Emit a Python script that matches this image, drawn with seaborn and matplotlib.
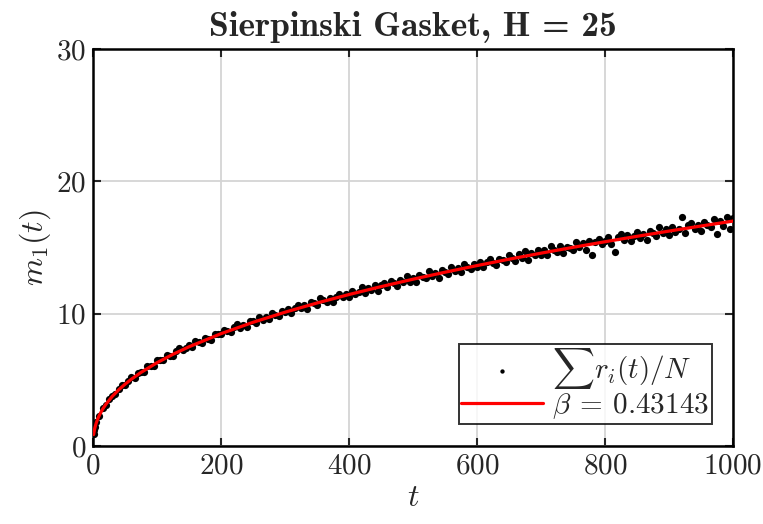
import numpy as np
import pandas as pd
import matplotlib
matplotlib.use("Agg")
import matplotlib.pyplot as plt
import seaborn as sns

# mean displacement samples
t_data = [1, 2, 3] + list(range(5, 1001, 5))
m_data = [
    0.87, 1.18, 1.40,
    1.78, 2.25, 2.88, 3.10, 3.58, 3.76, 3.90, 4.33, 4.61, 4.64,
    4.94, 5.23, 5.17, 5.51, 5.59, 5.60, 6.03, 6.06, 6.08, 6.51,
    6.53, 6.51, 6.87, 6.83, 6.79, 7.14, 7.37, 7.22, 7.43, 7.65,
    7.48, 7.92, 7.87, 7.80, 8.13, 8.11, 8.04, 8.47, 8.46, 8.44,
    8.78, 8.72, 8.58, 8.97, 9.19, 8.94, 9.13, 8.97, 9.42, 9.41,
    9.30, 9.71, 9.55, 9.76, 9.56, 10.05, 9.92, 9.86, 10.17, 10.09,
    10.36, 10.05, 10.39, 10.67, 10.41, 10.65, 10.36, 10.87, 10.77, 10.66,
    11.17, 11.01, 10.88, 11.22, 10.88, 11.24, 11.51, 11.25, 11.50, 11.27,
    11.72, 11.46, 11.67, 11.98, 11.54, 11.94, 11.82, 12.17, 11.70, 12.13,
    12.28, 12.03, 12.48, 12.28, 12.10, 12.53, 12.38, 12.81, 12.38, 12.68,
    12.41, 12.91, 12.80, 12.68, 13.20, 12.84, 13.09, 12.73, 13.30, 13.18,
    13.00, 13.51, 13.25, 13.47, 13.12, 13.78, 13.55, 13.38, 13.77, 13.54,
    13.93, 13.51, 13.88, 14.15, 13.82, 13.64, 14.13, 14.05, 13.89, 14.41,
    14.24, 14.00, 14.47, 14.20, 14.70, 14.09, 14.55, 14.44, 14.79, 14.41,
    14.81, 14.41, 15.08, 14.80, 14.67, 15.11, 14.55, 15.07, 14.99, 14.81,
    15.39, 15.02, 15.32, 14.82, 15.46, 14.41, 15.41, 15.65, 15.24, 15.48,
    15.77, 15.30, 14.66, 15.76, 16.02, 15.58, 15.94, 15.46, 15.86, 16.17,
    15.70, 16.04, 15.60, 16.27, 16.06, 15.88, 16.52, 16.09, 16.38, 15.98,
    16.53, 16.18, 16.41, 17.29, 16.13, 16.67, 16.86, 16.37, 16.69, 16.24,
    16.94, 16.73, 16.52, 17.13, 16.01, 17.00, 16.60, 17.32, 16.36, 17.20,
]

# power-law fit curve
t_fit = [1, 2, 3, 5, 7, 10, 15, 20, 30, 40, 50, 60, 75, 100, 125, 150, 200,
         250, 300, 350, 400, 450, 500, 550, 600, 650, 700, 750, 800, 850,
         900, 950, 1000]
m_fit = [0.863, 1.164, 1.386, 1.728, 1.998, 2.330, 2.776, 3.142, 3.744, 4.238,
         4.667, 5.048, 5.559, 6.293, 6.930, 7.495, 8.487, 9.345, 10.109, 10.805,
         11.445, 12.042, 12.603, 13.131, 13.633, 14.113, 14.571, 15.011, 15.434,
         15.844, 16.239, 16.623, 16.995]

x_ticks = [0, 200, 400, 600, 800, 1000]
y_ticks = [0, 10, 20, 30]

data = pd.DataFrame({"t": t_data, "m": m_data})
fit = pd.DataFrame({"t": t_fit, "m": m_fit})

sns.set_theme(style="ticks")
plt.rcParams["font.family"] = "serif"
plt.rcParams["font.serif"] = ["cmr10"]
plt.rcParams["mathtext.fontset"] = "cm"
plt.rcParams["axes.formatter.use_mathtext"] = True

fig = plt.figure(figsize=(7.63, 5.24), dpi=100)
ax = fig.add_axes([0.1219, 0.1489, 0.8388, 0.7576])

sns.scatterplot(data=data, x="t", y="m", ax=ax, color="black", s=27,
                linewidth=0, label=r"$\sum r_i(t)/N$", zorder=3)
sns.lineplot(data=fit, x="t", y="m", ax=ax, color="#ff0000", linewidth=2.3,
             label=r"$\beta\:=\:0.43143$", zorder=4)

ax.set_xlim(0, 1000)
ax.set_ylim(0, 30)
ax.set_xticks(x_ticks)
ax.set_yticks(y_ticks)
ax.grid(True, color="#d4d4d4", linewidth=1.3)
ax.set_axisbelow(True)
ax.tick_params(direction="in", length=6, width=1.5, labelsize=21,
               top=True, right=True, pad=5)
for sp in ax.spines.values():
    sp.set_linewidth(1.8)
    sp.set_color("black")

ax.set_xlabel(r"$t$", fontsize=23, labelpad=4)
ax.set_ylabel(r"$m_1(t)$", fontsize=23, labelpad=2)
ax.set_title("Sierpinski Gasket, H = 25", fontfamily="cmb10", fontsize=25.5, pad=9)

leg = ax.legend(loc="lower right", bbox_to_anchor=(0.967, 0.055), borderaxespad=0,
                fontsize=21, frameon=True, fancybox=False, handlelength=2.8,
                handletextpad=0.3, borderpad=0.1, labelspacing=0.0, markerscale=0.6)
leg.get_frame().set_edgecolor("black")
leg.get_frame().set_linewidth(1.4)

plt.savefig("out.png", dpi=100)
plt.close()
